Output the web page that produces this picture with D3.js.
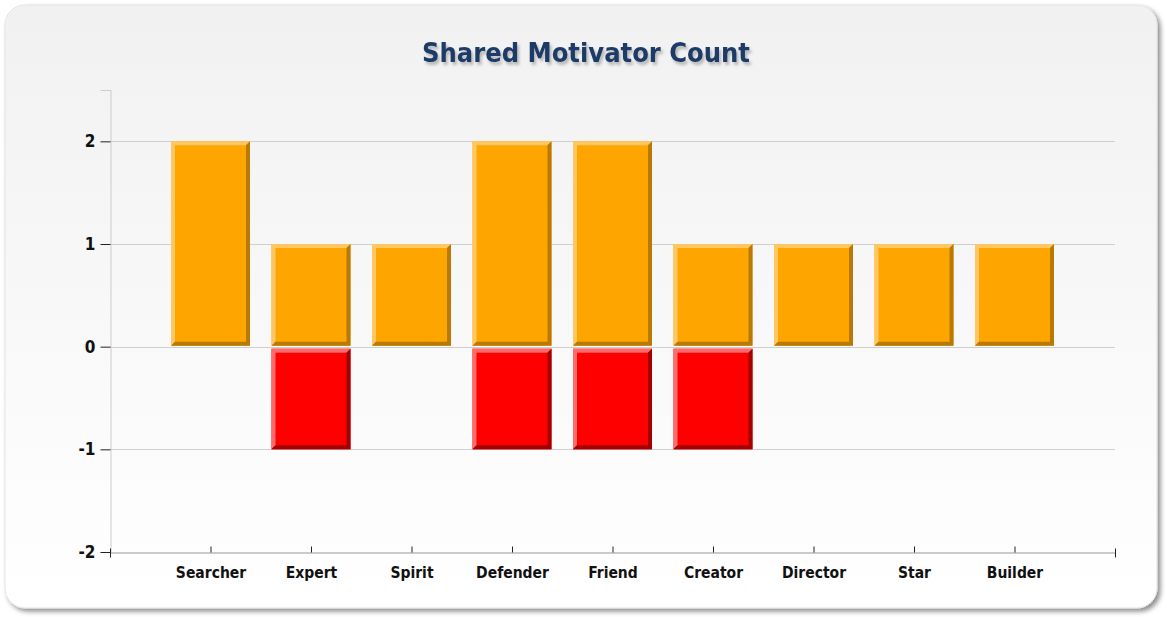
<!DOCTYPE html>
<html>
<head>
<meta charset="utf-8">
<script src="https://cdn.jsdelivr.net/npm/d3@7"></script>
<style>
  body { margin: 0; background: #ffffff; }
  svg { display: block; font-family: "DejaVu Sans", Verdana, sans-serif; }
  .grid line { stroke: #cfcfcf; stroke-width: 1; }
  .axis text { fill: #111; font-weight: bold; }
</style>
</head>
<body>
<svg id="main" width="1167" height="617"></svg>
<script>
// chart data
var categories = ["Searcher", "Expert", "Spirit", "Defender", "Friend", "Creator", "Director", "Star", "Builder"];
var positiveCounts = [2, 1, 1, 2, 2, 1, 1, 1, 1];
var negativeCounts = [0, -1, 0, -1, -1, -1, 0, 0, 0];
var yTicks = [-2, -1, 0, 1, 2];

var svg = d3.select("#main");

var margin = { left: 110, right: 1115, top: 90, bottom: 552 };

var x = d3.scaleLinear().domain([0, 10]).range([margin.left, margin.right]);
var y = d3.scaleLinear().domain([-2, 2.5]).range([margin.bottom, margin.top]);

var defs = svg.append("defs");
var bg = defs.append("linearGradient").attr("id", "panelGrad")
  .attr("x1", 0).attr("y1", 0).attr("x2", 0).attr("y2", 1);
bg.append("stop").attr("offset", "0%").attr("stop-color", "#f1f1f1");
bg.append("stop").attr("offset", "100%").attr("stop-color", "#ffffff");

var shadow = defs.append("filter").attr("id", "shadow")
  .attr("x", "-5%").attr("y", "-5%").attr("width", "110%").attr("height", "110%");
shadow.append("feGaussianBlur").attr("in", "SourceAlpha").attr("stdDeviation", 2.5);
shadow.append("feOffset").attr("dx", 3).attr("dy", 3).attr("result", "off");
shadow.append("feComponentTransfer").append("feFuncA").attr("type", "linear").attr("slope", 0.45);
var merge = shadow.append("feMerge");
merge.append("feMergeNode");
merge.append("feMergeNode").attr("in", "SourceGraphic");

var titleShadow = defs.append("filter").attr("id", "tshadow");
titleShadow.append("feDropShadow").attr("dx", 2).attr("dy", 3)
  .attr("stdDeviation", 1.5).attr("flood-color", "#000").attr("flood-opacity", 0.25);

// panel
svg.append("rect")
  .attr("x", 5).attr("y", 5).attr("width", 1152).attr("height", 603)
  .attr("rx", 20).attr("ry", 20)
  .attr("fill", "url(#panelGrad)")
  .attr("stroke", "#e4e4e4")
  .attr("filter", "url(#shadow)");

// title
svg.append("text")
  .attr("x", 586).attr("y", 62)
  .attr("text-anchor", "middle")
  .attr("font-family", "'DejaVu Sans Condensed', 'DejaVu Sans', sans-serif")
  .attr("font-size", 27).attr("font-weight", "bold")
  .attr("fill", "#1e3a66")
  .attr("filter", "url(#tshadow)")
  .text("Shared Motivator Count");

// grid
svg.append("g").attr("class", "grid")
  .selectAll("line")
  .data(yTicks.filter(function(d) { return d > -2; }))
  .enter().append("line")
  .attr("x1", margin.left).attr("x2", margin.right)
  .attr("y1", function(d) { return Math.round(y(d)) + 0.5; })
  .attr("y2", function(d) { return Math.round(y(d)) + 0.5; });

// y axis
var yAxis = svg.append("g").attr("class", "axis")
  .attr("transform", "translate(" + (margin.left + 0.5) + ",0)")
  .call(d3.axisLeft(y).tickValues(yTicks).tickSize(10).tickPadding(5)
    .tickFormat(function(d) { return String(d); }));
yAxis.attr("font-family", "'DejaVu Sans Condensed', 'DejaVu Sans', sans-serif").attr("font-size", 17);
yAxis.select(".domain").attr("stroke", "#cccccc");
yAxis.selectAll(".tick line").attr("stroke", "#222");

// x axis
var xAxis = svg.append("g").attr("class", "axis")
  .attr("transform", "translate(0," + (margin.bottom + 0.5) + ")")
  .call(d3.axisBottom(x).tickValues(d3.range(0, 11)).tickSize(0).tickPadding(14)
    .tickFormat(function(d) { return d >= 1 && d <= 9 ? categories[d - 1] : ""; }));
xAxis.attr("font-family", "'DejaVu Sans Condensed', 'DejaVu Sans', sans-serif").attr("font-size", 15.5);
xAxis.select(".domain").attr("stroke", "#999999");
xAxis.selectAll(".tick line").attr("stroke", "#222").attr("y1", -6).attr("y2", 0);
xAxis.selectAll(".tick").filter(function(d) { return d === 0 || d === 10; })
  .select("line").attr("y1", -4).attr("y2", 5);

// bars
var barW = 79;
var edge = 4;

function drawBars(values, fill, light, dark, cls) {
  var data = values.map(function(v, i) { return { i: i, v: v }; })
    .filter(function(d) { return d.v !== 0; });

  var g = svg.append("g").attr("class", cls)
    .selectAll("g").data(data).enter().append("g")
    .attr("transform", function(d) {
      var top = d.v > 0 ? y(d.v) : y(0) + 2;
      return "translate(" + (x(d.i + 1) - barW / 2) + "," + top + ")";
    });

  function h(d) {
    return d.v > 0 ? y(0) - y(d.v) - 1 : y(d.v) - y(0) - 2;
  }

  g.append("rect")
    .attr("width", barW).attr("height", h)
    .attr("fill", fill);
  // light top-left bevel
  g.append("path").attr("fill", light)
    .attr("d", function(d) {
      var hh = h(d);
      return "M0,0 L" + barW + ",0 L" + (barW - edge) + "," + edge + " L" + edge + "," + edge +
        " L" + edge + "," + (hh - edge) + " L0," + hh + "Z";
    });
  // dark bottom-right bevel
  g.append("path").attr("fill", dark)
    .attr("d", function(d) {
      var hh = h(d);
      return "M" + barW + ",0 L" + barW + "," + hh + " L0," + hh + " L" + edge + "," + (hh - edge) +
        " L" + (barW - edge) + "," + (hh - edge) + " L" + (barW - edge) + "," + edge + "Z";
    });
}

drawBars(positiveCounts, "#ffa500", "#ffc763", "#b97a05", "pos");
drawBars(negativeCounts, "#ff0000", "#ff6a6a", "#a30000", "neg");
</script>
</body>
</html>
